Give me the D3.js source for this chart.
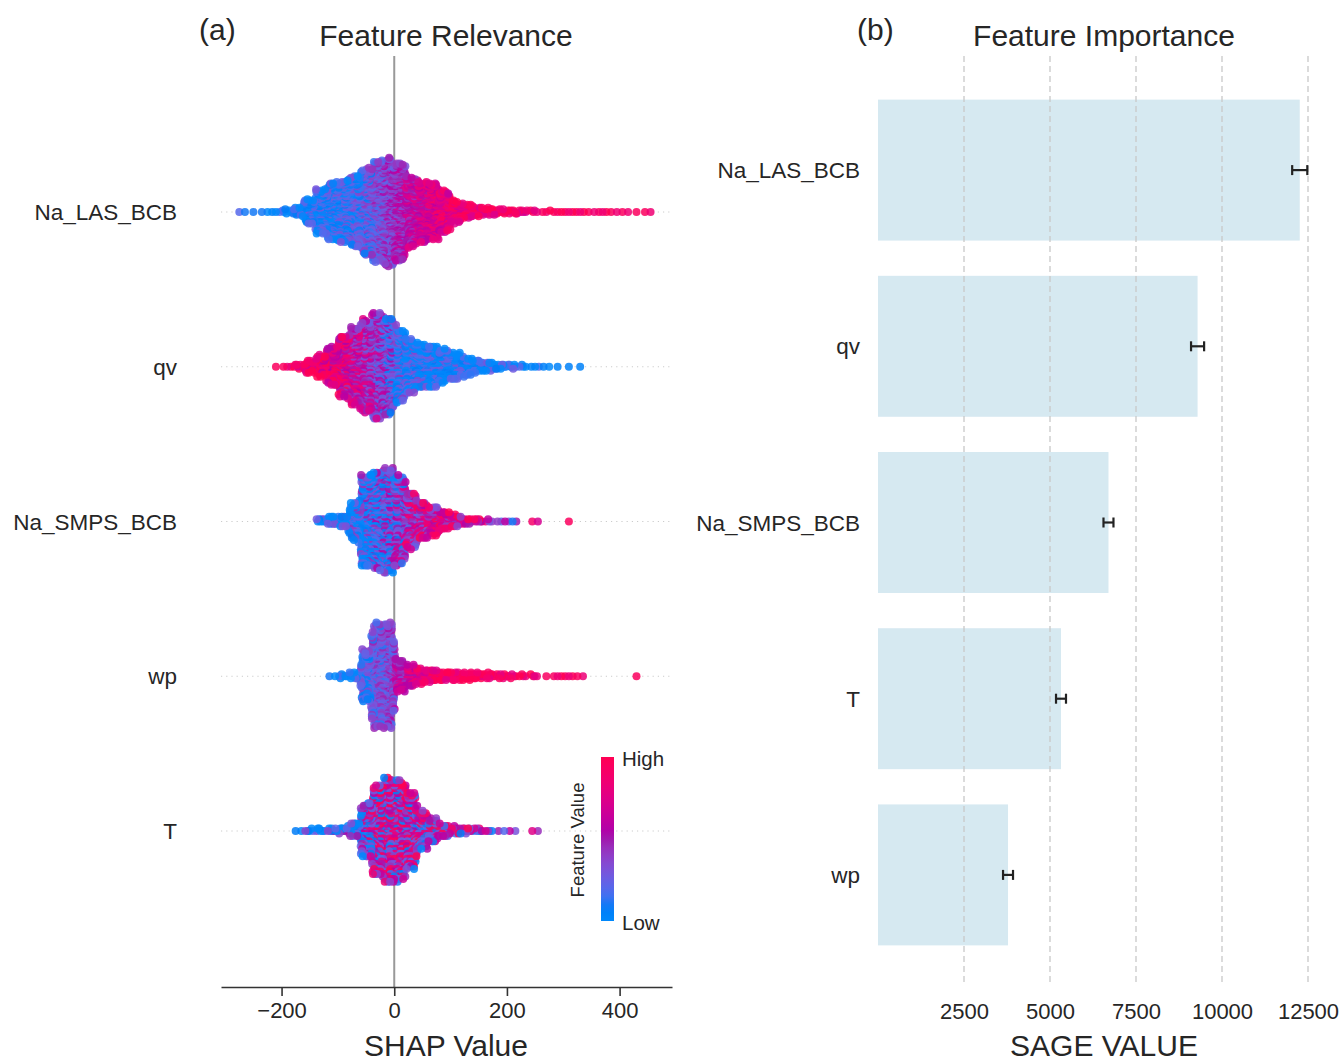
<!DOCTYPE html>
<html>
<head>
<meta charset="utf-8">
<script src="https://cdn.jsdelivr.net/npm/d3@7"></script>
<style>
  body { margin: 0; background: #fff; }
  text { font-family: "Liberation Sans", Arial, sans-serif; fill: #262626; }
</style>
</head>
<body>
<svg id="chart" width="1344" height="1061"></svg>
<script>
// ---------- data ----------
// Beeswarm features, top to bottom
const shapFeatures = ["Na_LAS_BCB", "qv", "Na_SMPS_BCB", "wp", "T"];
// SHAP values are grouped into 20-unit bins starting at -300
const shapBinStart = -300;
const shapBinWidth = 20;
// number of samples falling in each SHAP bin
const countsLAS  = [0,2,1,2,3,6,18,50,84,108,120,136,164,192,208,188,136,116,108,80,44,26,18,14,10,8,6,4,3,3,3,3,2,3,2,2,1,2];
const countsQv   = [0,0,0,0,1,3,8,22,40,72,112,144,172,196,180,136,100,80,76,60,48,34,22,16,10,7,4,3,2,1,1,1,0,0,0,0,0,0];
const countsSMPS = [0,0,0,0,0,0,0,0,8,18,20,72,176,188,200,172,108,72,56,36,22,12,7,4,3,3,0,2,0,0,1,0,0,0,0,0,0,0];
const countsWp   = [0,0,0,0,0,0,0,0,0,2,6,12,96,200,200,60,40,28,22,18,16,14,12,10,8,6,4,4,1,3,3,2,0,0,0,0,1,0];
const countsT    = [0,0,0,0,0,0,2,5,6,8,10,28,100,164,192,184,140,68,42,22,14,10,7,4,2,2,0,2,0,0,0,0,0,0,0,0,0,0];
// mean normalised feature value (0 = low, 1 = high) in each SHAP bin
const levelLAS  = [0,0.2,0.1,0.1,0.08,0.08,0.08,0.1,0.1,0.12,0.15,0.18,0.25,0.32,0.4,0.5,0.6,0.68,0.75,0.8,0.85,0.9,0.9,0.9,0.92,0.9,0.8,0.92,0.95,0.95,0.95,0.95,0.95,0.95,0.95,0.95,0.95,0.95];
const levelQv   = [0,0,0,0,0.95,0.95,0.95,0.9,0.88,0.8,0.72,0.62,0.52,0.42,0.3,0.15,0.1,0.08,0.05,0.05,0.05,0.05,0.05,0.05,0.05,0.05,0.05,0.05,0.05,0.05,0.05,0.05,0,0,0,0,0,0];
const levelSMPS = [0,0,0,0,0,0,0,0,0.08,0.08,0.08,0.08,0.12,0.2,0.3,0.4,0.55,0.65,0.7,0.75,0.75,0.7,0.75,0.6,0.4,0.3,0,0.9,0,0,0.95,0,0,0,0,0,0,0];
const levelWp   = [0,0,0,0,0,0,0,0,0,0.1,0.08,0.1,0.2,0.3,0.35,0.55,0.7,0.8,0.88,0.93,0.93,0.93,0.93,0.93,0.93,0.93,0.93,0.93,0.93,0.93,0.93,0.93,0,0,0,0,0.95,0];
const levelT    = [0,0,0,0,0,0,0.08,0.08,0.08,0.08,0.08,0.15,0.35,0.55,0.58,0.6,0.58,0.5,0.55,0.6,0.6,0.55,0.4,0.4,0.5,0.6,0,0.75,0,0,0,0,0,0,0,0,0,0];
// how widely feature values scatter around the bin mean
const levelSpread = [0.2, 0.3, 0.4, 0.2, 0.6];
const shapCounts = [countsLAS, countsQv, countsSMPS, countsWp, countsT];
const shapLevels = [levelLAS, levelQv, levelSMPS, levelWp, levelT];
const shapTicks = [-200, 0, 200, 400];

// SAGE importance
const sageFeatures = ["Na_LAS_BCB", "qv", "Na_SMPS_BCB", "T", "wp"];
const sageValues = [12260, 9290, 6700, 5320, 3780];
const sageErrors = [220, 190, 145, 145, 145];
const sageTicks = [2500, 5000, 7500, 10000, 12500];

// ---------- helpers ----------
// radical-inverse sequence used to spread samples inside a bin
const vdc = (n, b) => { let v = 0, d = 1; while (n > 0) { d *= b; v += (n % b) / d; n = Math.floor(n / b); } return v; };
// blue -> magenta -> red map in LCh (lightness dips in the middle)
const blueLch = [54, 70, 266.93], redLch = [54, 90, 380.32], lMid = 40;
const redBlue = t => {
  const l = t < 0.5 ? blueLch[0] + (lMid - blueLch[0]) * (t / 0.5) : lMid + (redLch[0] - lMid) * ((t - 0.5) / 0.5);
  const c = blueLch[1] + (redLch[1] - blueLch[1]) * t;
  const h = blueLch[2] + (redLch[2] - blueLch[2]) * t;
  return d3.hcl(h % 360, c, l).rgb().clamp().formatHex();
};
const featureColor = d3.scaleSequential(redBlue).domain([0, 1]);

const svg = d3.select("#chart");

// ---------- panel (a): SHAP beeswarm ----------
const xS = d3.scaleLinear().domain([-307.5, 493]).range([221, 672]);
const yS = d3.scalePoint().domain(shapFeatures).range([212, 831]);
const rowSpacing = yS.step();
const plotTop = 56, axisY = 987;

const gA = svg.append("g");

// row guides
gA.selectAll("line.row").data(shapFeatures).join("line")
  .attr("x1", 221).attr("x2", 672)
  .attr("y1", d => yS(d)).attr("y2", d => yS(d))
  .attr("stroke", "#cccccc").attr("stroke-width", 1).attr("stroke-dasharray", "1.2 4");

// zero line
gA.append("line")
  .attr("x1", xS(0)).attr("x2", xS(0)).attr("y1", plotTop).attr("y2", axisY)
  .attr("stroke", "#999999").attr("stroke-width", 2);

// expand binned counts into samples and stack them like shap's summary plot
let allPts = [];
shapFeatures.forEach((f, fi) => {
  const counts = shapCounts[fi], levels = shapLevels[fi];
  const pts = [];
  counts.forEach((n, k) => {
    for (let j = 0; j < n; j++) {
      const frac = n < 4 ? (j + 0.5) / n : vdc(j + 1, 3);
      const v = shapBinStart + k * shapBinWidth + frac * shapBinWidth;
      const fv = Math.max(0, Math.min(1, levels[k] + levelSpread[fi] * (2 * vdc(j + 1, 2) - 1)));
      pts.push({ f, v, fv });
    }
  });
  pts.forEach((p, i) => { p.key = (i * 0.6180339887 + fi * 0.37) % 1; });
  const vmin = d3.min(pts, p => p.v), vmax = d3.max(pts, p => p.v);
  const nb = 100;
  pts.forEach(p => { p.q = Math.round(nb * (p.v - vmin) / (vmax - vmin + 1e-8)); });
  const order = pts.slice().sort((a, b) => a.q - b.q || a.key - b.key);
  let layer = 0, last = -1;
  order.forEach(p => {
    if (p.q !== last) layer = 0;
    p.ys = Math.ceil(layer / 2) * ((layer % 2) * 2 - 1);
    layer++; last = p.q;
  });
  const maxYs = d3.max(pts, p => p.ys + 1);
  const unit = 0.9 * 0.4 * rowSpacing / maxYs;
  pts.forEach(p => { p.py = yS(f) - p.ys * unit; });
  allPts = allPts.concat(pts);
});
allPts.sort((a, b) => a.key - b.key);

gA.append("g").selectAll("circle").data(allPts).join("circle")
  .attr("cx", d => xS(d.v)).attr("cy", d => d.py).attr("r", 4)
  .attr("fill", d => featureColor(d.fv)).attr("fill-opacity", 0.85);

// axis
const axA = gA.append("g").attr("transform", `translate(0,${axisY})`)
  .call(d3.axisBottom(xS).tickValues(shapTicks).tickSize(9).tickPadding(6).tickSizeOuter(0));
axA.select(".domain").attr("stroke", "#333").attr("stroke-width", 1.6);
axA.selectAll(".tick line").attr("stroke", "#333").attr("stroke-width", 1.6);
axA.selectAll(".tick text").style("font-size", "22px").attr("fill", "#262626");

// feature labels
gA.selectAll("text.lab").data(shapFeatures).join("text")
  .attr("x", 177).attr("y", d => yS(d) + 8).attr("text-anchor", "end")
  .style("font-size", "22.5px").text(d => d);

gA.append("text").attr("x", 446).attr("y", 46).attr("text-anchor", "middle").style("font-size", "30px").text("Feature Relevance");
gA.append("text").attr("x", 199).attr("y", 40).style("font-size", "30px").text("(a)");
gA.append("text").attr("x", 446).attr("y", 1056).attr("text-anchor", "middle").style("font-size", "30px").text("SHAP Value");

// colour bar
const defs = svg.append("defs");
const grad = defs.append("linearGradient").attr("id", "fvGrad").attr("x1", 0).attr("x2", 0).attr("y1", 1).attr("y2", 0);
d3.range(0, 1.0001, 0.05).forEach(t => grad.append("stop").attr("offset", t).attr("stop-color", featureColor(t)));
const cbX = 601, cbTop = 757, cbBot = 921;
gA.append("rect").attr("x", cbX).attr("y", cbTop).attr("width", 13).attr("height", cbBot - cbTop).attr("fill", "url(#fvGrad)");
gA.append("text").attr("x", 622).attr("y", 766).style("font-size", "20.5px").text("High");
gA.append("text").attr("x", 622).attr("y", 930).style("font-size", "20.5px").text("Low");
gA.append("text").attr("transform", `translate(584,${(cbTop + cbBot) / 2 + 1}) rotate(-90)`)
  .attr("text-anchor", "middle").style("font-size", "18.5px").text("Feature Value");

// ---------- panel (b): SAGE bars ----------
const xB = d3.scaleLinear().domain([0, 12500]).range([878, 1308]);
const yB = d3.scaleBand().domain(sageFeatures).range([82, 963]).paddingInner(0.2).paddingOuter(0.1);
const gB = svg.append("g");

gB.selectAll("rect.bar").data(sageFeatures).join("rect")
  .attr("x", xB(0)).attr("y", d => yB(d)).attr("height", yB.bandwidth())
  .attr("width", (d, i) => xB(sageValues[i]) - xB(0))
  .attr("fill", "#d6e9f1");

gB.selectAll("line.grid").data(sageTicks).join("line")
  .attr("x1", d => xB(d)).attr("x2", d => xB(d)).attr("y1", plotTop).attr("y2", 985)
  .attr("stroke", "#c8c8c8").attr("stroke-width", 1.3).attr("stroke-dasharray", "6 4");

// error bars
const eb = gB.selectAll("g.err").data(sageFeatures).join("g")
  .attr("transform", d => `translate(0,${yB(d) + yB.bandwidth() / 2})`);
eb.append("line").attr("x1", (d, i) => xB(sageValues[i] - sageErrors[i])).attr("x2", (d, i) => xB(sageValues[i] + sageErrors[i]))
  .attr("stroke", "#222").attr("stroke-width", 2.2);
eb.append("line").attr("x1", (d, i) => xB(sageValues[i] - sageErrors[i])).attr("x2", (d, i) => xB(sageValues[i] - sageErrors[i]))
  .attr("y1", -5).attr("y2", 5).attr("stroke", "#222").attr("stroke-width", 2.2);
eb.append("line").attr("x1", (d, i) => xB(sageValues[i] + sageErrors[i])).attr("x2", (d, i) => xB(sageValues[i] + sageErrors[i]))
  .attr("y1", -5).attr("y2", 5).attr("stroke", "#222").attr("stroke-width", 2.2);

gB.selectAll("text.lab").data(sageFeatures).join("text")
  .attr("x", 860).attr("y", d => yB(d) + yB.bandwidth() / 2 + 8).attr("text-anchor", "end")
  .style("font-size", "22.5px").text(d => d);

const axB = gB.append("g").attr("transform", `translate(0,${axisY})`)
  .call(d3.axisBottom(xB).tickValues(sageTicks).tickSize(0).tickPadding(16).tickFormat(d3.format("d")));
axB.select(".domain").remove();
axB.selectAll(".tick text").style("font-size", "22px").attr("fill", "#262626");

gB.append("text").attr("x", 1104).attr("y", 46).attr("text-anchor", "middle").style("font-size", "30px").text("Feature Importance");
gB.append("text").attr("x", 857).attr("y", 40).style("font-size", "30px").text("(b)");
gB.append("text").attr("x", 1104).attr("y", 1056).attr("text-anchor", "middle").style("font-size", "30px").text("SAGE VALUE");
</script>
</body>
</html>
